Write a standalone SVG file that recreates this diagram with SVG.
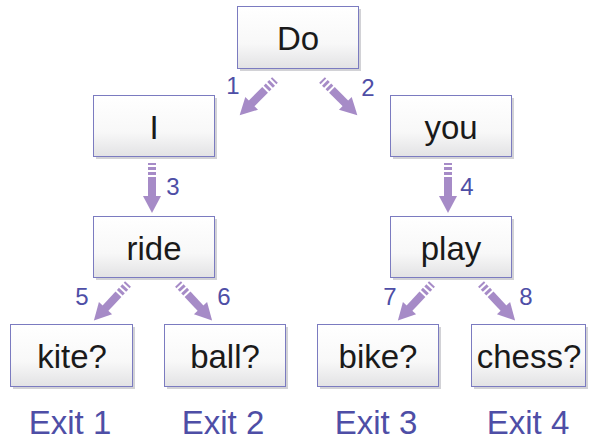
<svg xmlns="http://www.w3.org/2000/svg" width="592" height="440" viewBox="0 0 592 440">
<style>
.box{fill:url(#bg);stroke:#7B7BC0;stroke-width:1}
.sh{fill:#D2D2D6}
.t{font-family:"Liberation Sans",Arial,sans-serif;font-size:33px;fill:#1a1a1a;text-anchor:middle}
.n{font-family:"Liberation Sans",Arial,sans-serif;font-size:24px;fill:#4E4EA6;text-anchor:middle}
.x{font-family:"Liberation Sans",Arial,sans-serif;font-size:33px;fill:#4E4EA6;text-anchor:middle}
.a{fill:#A68BC7}
</style>
<defs>
<linearGradient id="bg" x1="0" y1="0" x2="0" y2="1">
<stop offset="0" stop-color="#FFFFFF"/>
<stop offset="0.6" stop-color="#F8F8F8"/>
<stop offset="1" stop-color="#E2E2E4"/>
</linearGradient>
<g id="arr" class="a">
<rect x="-4" y="0" width="8" height="2"/>
<rect x="-4" y="4" width="8" height="3"/>
<rect x="-4" y="9" width="8" height="3"/>
<rect x="-4" y="14" width="8" height="20"/>
<polygon points="-9,33 9,33 0,50"/>
</g>
</defs>
<g id="connectors">
<use href="#arr" transform="translate(275,80) rotate(45)"/>
<use href="#arr" transform="translate(322,80) rotate(-45)"/>
<use href="#arr" transform="translate(152,163)"/>
<use href="#arr" transform="translate(448,163)"/>
<use href="#arr" transform="translate(128,284) rotate(43)"/>
<use href="#arr" transform="translate(178,284) rotate(-43)"/>
<use href="#arr" transform="translate(432,284) rotate(43)"/>
<use href="#arr" transform="translate(481,284) rotate(-43)"/>
<text class="n" x="233" y="94">1</text>
<text class="n" x="368" y="96">2</text>
<text class="n" x="173" y="195">3</text>
<text class="n" x="467" y="195">4</text>
<text class="n" x="82" y="305">5</text>
<text class="n" x="224" y="305">6</text>
<text class="n" x="390" y="305">7</text>
<text class="n" x="526" y="305">8</text>
</g>
<g id="node-do"><rect class="sh" x="240" y="9" width="121" height="62"/><rect class="box" x="237.5" y="6.5" width="121" height="62"/><text class="t" x="298" y="50">Do</text></g>
<g id="node-i"><rect class="sh" x="96" y="98" width="121" height="61"/><rect class="box" x="93.5" y="95.5" width="121" height="61"/><text class="t" x="154" y="139">I</text></g>
<g id="node-you"><rect class="sh" x="393" y="98" width="121" height="61"/><rect class="box" x="390.5" y="95.5" width="121" height="61"/><text class="t" x="451" y="139">you</text></g>
<g id="node-ride"><rect class="sh" x="96" y="219" width="121" height="61"/><rect class="box" x="93.5" y="216.5" width="121" height="61"/><text class="t" x="154" y="260">ride</text></g>
<g id="node-play"><rect class="sh" x="393" y="219" width="121" height="61"/><rect class="box" x="390.5" y="216.5" width="121" height="61"/><text class="t" x="451" y="260">play</text></g>
<g id="node-kite"><rect class="sh" x="13" y="327" width="122" height="62"/><rect class="box" x="10.5" y="324.5" width="122" height="62"/><text class="t" x="72" y="368">kite?</text></g>
<g id="node-ball"><rect class="sh" x="167" y="327" width="121" height="62"/><rect class="box" x="164.5" y="324.5" width="121" height="62"/><text class="t" x="225" y="368">ball?</text></g>
<g id="node-bike"><rect class="sh" x="320" y="327" width="121" height="62"/><rect class="box" x="317.5" y="324.5" width="121" height="62"/><text class="t" x="378" y="368">bike?</text></g>
<g id="node-chess"><rect class="sh" x="474" y="327" width="114" height="62"/><rect class="box" x="471.5" y="324.5" width="114" height="62"/><text class="t" x="529" y="368">chess?</text></g>
<g id="exits">
<text class="x" x="70" y="434">Exit 1</text>
<text class="x" x="223" y="434">Exit 2</text>
<text class="x" x="376" y="434">Exit 3</text>
<text class="x" x="528" y="434">Exit 4</text>
</g>
</svg>
